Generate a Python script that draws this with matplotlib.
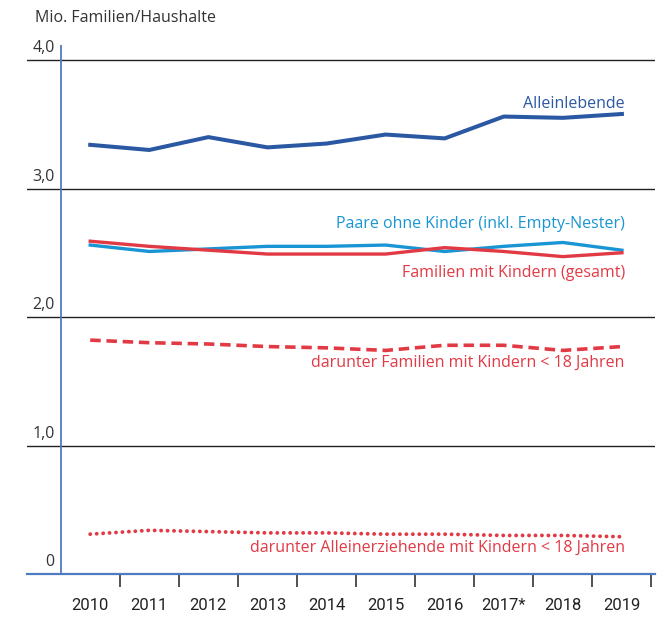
import matplotlib.pyplot as plt

# Werte in Mio.
years = ['2010', '2011', '2012', '2013', '2014', '2015', '2016', '2017*', '2018', '2019']
alleinlebende = [3.34, 3.30, 3.40, 3.32, 3.35, 3.42, 3.39, 3.56, 3.55, 3.58]
paare_ohne_kinder = [2.56, 2.51, 2.53, 2.55, 2.55, 2.56, 2.51, 2.55, 2.58, 2.52]
familien_gesamt = [2.59, 2.55, 2.52, 2.49, 2.49, 2.49, 2.54, 2.51, 2.47, 2.50]
familien_u18 = [1.82, 1.80, 1.79, 1.77, 1.76, 1.74, 1.78, 1.78, 1.74, 1.77]
alleinerziehende_u18 = [0.31, 0.34, 0.33, 0.32, 0.32, 0.31, 0.31, 0.30, 0.30, 0.29]
y_ticks = [0, 1, 2, 3, 4]
y_labels = ['0', '1,0', '2,0', '3,0', '4,0']

dark_blue = '#2b58a2'
light_blue = '#1a95d4'
red = '#e23a45'
axis_blue = '#4f7bc1'
text_gray = '#333333'

plt.rcParams['font.family'] = ['Roboto', 'DejaVu Sans']

fig = plt.figure(figsize=(6.62, 6.30), dpi=100)
ax = fig.add_axes([27 / 662, 1 - 574 / 630, (655 - 27) / 662, (574 - 44.6) / 630])

x = list(range(len(years)))
ax.set_xlim(-1.07, 9.56)
ax.set_ylim(0, 4.12)

for v in y_ticks[1:]:
    ax.axhline(v, color='#222222', lw=1.0, zorder=1)
ax.axvline(-0.5, color=axis_blue, lw=1.3, zorder=2)

ax.plot(x, alleinlebende, color=dark_blue, lw=2.9, zorder=5)
ax.plot(x, paare_ohne_kinder, color=light_blue, lw=2.4, zorder=4)
ax.plot(x, familien_gesamt, color=red, lw=2.4, zorder=5)
ax.plot(x, familien_u18, color=red, lw=2.6, linestyle=(0, (2.9, 1.6)), zorder=4)
ax.plot(x, alleinerziehende_u18, color=red, lw=2.8, linestyle=(0, (0.01, 1.65)),
        dash_capstyle='round', zorder=4)

# Beschriftungen der Linien
fs = 11.5
ax.text(9.05, 3.66, 'Alleinlebende', color=dark_blue, ha='right', va='center', fontsize=fs, family='Open Sans')
ax.text(9.05, 2.72, 'Paare ohne Kinder (inkl. Empty-Nester)', color=light_blue, ha='right', va='center', fontsize=fs, family='Open Sans')
ax.text(9.05, 2.34, 'Familien mit Kindern (gesamt)', color=red, ha='right', va='center', fontsize=fs, family='Open Sans')
ax.text(9.05, 1.64, 'darunter Familien mit Kindern < 18 Jahren', color=red, ha='right', va='center', fontsize=fs, family='Open Sans')
ax.text(9.05, 0.20, 'darunter Alleinerziehende mit Kindern < 18 Jahren', color=red, ha='right', va='center', fontsize=fs, family='Open Sans')

# y-Beschriftungen oberhalb der Gitterlinien
for v, lab in zip(y_ticks, y_labels):
    ax.text(-0.6, v + 0.03, lab, ha='right', va='bottom', fontsize=11.5, color=text_gray, family='Open Sans')
fig.text(35 / 662, 1 - 18 / 630, 'Mio. Familien/Haushalte', ha='left', va='center', fontsize=11.5,
         color=text_gray, family='Open Sans')

ax.set_yticks([])
ax.set_xticks(x)
ax.set_xticklabels(years, fontsize=12, color='#222222')
ax.set_xticks([i + 0.5 for i in x], minor=True)
ax.tick_params(axis='x', which='major', length=0, pad=17)
ax.tick_params(axis='x', which='minor', length=9, width=1.2, color='#333333', direction='out')

for s in ['top', 'right', 'left']:
    ax.spines[s].set_visible(False)
ax.spines['bottom'].set_color(axis_blue)
ax.spines['bottom'].set_linewidth(1.6)

fig.savefig('out.png', dpi=100)
